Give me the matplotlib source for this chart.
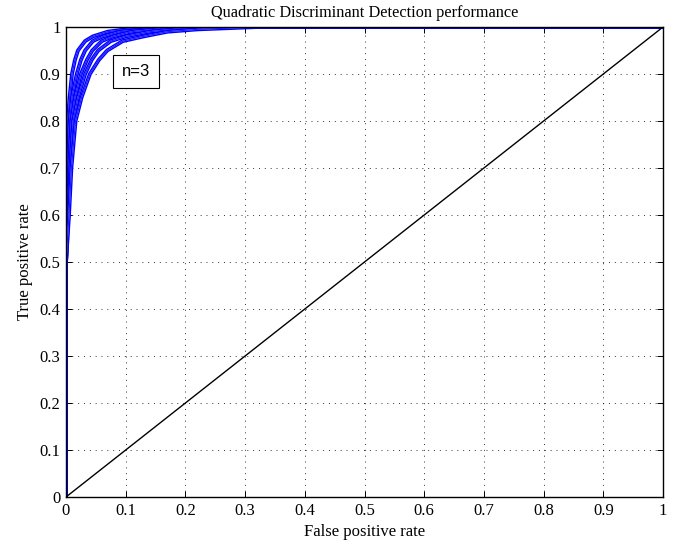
import matplotlib
matplotlib.use("Agg")
import matplotlib.pyplot as plt
import matplotlib.patheffects as pe

plt.rcParams['font.family'] = ['Liberation Serif', 'DejaVu Serif']

# True positive rate levels shared by every ROC curve
tpr = [0, 0.5, 0.6, 0.7, 0.8, 0.85, 0.9, 0.93, 0.95, 0.97, 0.98, 0.99, 0.995, 1.0, 1.0]

# False positive rates for each run at the levels above
fpr_run1 = [0, 0, 0.001, 0.002, 0.003, 0.006, 0.010, 0.015, 0.020, 0.032, 0.045, 0.070, 0.10, 0.20, 1]
fpr_run2 = [0, 0, 0.002, 0.003, 0.006, 0.010, 0.018, 0.025, 0.032, 0.045, 0.062, 0.090, 0.13, 0.22, 1]
fpr_run3 = [0, 0, 0.003, 0.005, 0.009, 0.015, 0.025, 0.035, 0.044, 0.060, 0.079, 0.110, 0.15, 0.25, 1]
fpr_run4 = [0, 0, 0.004, 0.007, 0.012, 0.020, 0.032, 0.043, 0.054, 0.075, 0.100, 0.140, 0.18, 0.28, 1]
fpr_run5 = [0, 0, 0.005, 0.009, 0.016, 0.026, 0.040, 0.055, 0.069, 0.095, 0.130, 0.170, 0.22, 0.32, 1]
runs = [fpr_run1, fpr_run2, fpr_run3, fpr_run4, fpr_run5]

chance = [0, 1]
ticks = [0, 0.1, 0.2, 0.3, 0.4, 0.5, 0.6, 0.7, 0.8, 0.9, 1]
tick_labels = ['0', '0.1', '0.2', '0.3', '0.4', '0.5', '0.6', '0.7', '0.8', '0.9', '1']

fig = plt.figure(figsize=(6.88, 5.42), dpi=100)
ax = fig.add_axes([66/688, 45/542, 597/688, 470/542])

for fpr in runs:
    ax.plot(fpr, tpr, color='#0000ff', lw=0.6, solid_joinstyle='round',
            path_effects=[pe.Stroke(linewidth=2.8, foreground='#0000ff'),
                          pe.Stroke(linewidth=0.8, foreground='#b0b0ff'),
                          pe.Normal()])

ax.plot(chance, chance, color='black', lw=1.0)

ax.set_xlim(0, 1)
ax.set_ylim(0, 1)
ax.set_xticks(ticks)
ax.set_yticks(ticks)
ax.set_xticklabels(tick_labels)
ax.set_yticklabels(tick_labels)
ax.tick_params(direction='in', top=True, right=True, labelsize=12, length=4, width=0.7, pad=4)
ax.grid(True, linestyle=(0, (1, 5)), color='black', lw=0.7, alpha=0.8)
for s in ax.spines.values():
    s.set_linewidth(1.0)

ax.set_title('Quadratic Discriminant Detection performance', fontsize=11.7, pad=7)
ax.set_xlabel('False positive rate', fontsize=12, labelpad=4)
ax.set_ylabel('True positive rate', fontsize=12, labelpad=5)

ax.text(0.117, 0.905, 'n=3', fontsize=12, family=['Liberation Sans', 'DejaVu Sans'],
        ha='center', va='center',
        bbox=dict(boxstyle='square,pad=0.55', facecolor='white', edgecolor='black', lw=0.8))

fig.savefig('out.png', dpi=100)
